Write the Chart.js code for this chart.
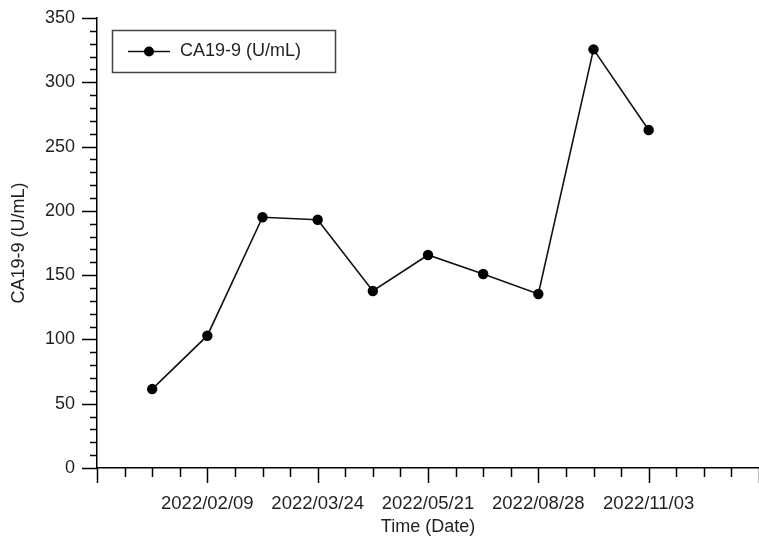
<!DOCTYPE html>
<html>
<head>
<meta charset="utf-8">
<script src="https://cdn.jsdelivr.net/npm/chart.js@4/dist/chart.umd.min.js"></script>
<style>
html,body{margin:0;padding:0;background:#fff;}
#wrap{width:759px;height:539px;position:relative;}
</style>
</head>
<body>
<div id="wrap"><canvas id="c" width="759" height="539"></canvas></div>
<script>
// ---- data ----
const seriesLabel = 'CA19-9 (U/mL)';
const pointPositions = [1, 2, 3, 4, 5, 6, 7, 8, 9, 10];
const ca199Values = [61.4, 102.9, 195.0, 193.1, 137.7, 165.7, 150.9, 135.3, 325.6, 262.9];
const xTickPositions = [2, 4, 6, 8, 10];
const xTickLabels = ['2022/02/09', '2022/03/24', '2022/05/21', '2022/08/28', '2022/11/03'];
const yAxisTitle = 'CA19-9 (U/mL)';
const xAxisTitle = 'Time (Date)';

const FONT = 'Liberation Sans';
const INK = '#231f20';

const tickMarks = {
  id: 'tickMarks',
  afterDraw(chart) {
    const ctx = chart.ctx;
    const xs = chart.scales.x, ys = chart.scales.y;
    const area = chart.chartArea;
    ctx.save();
    ctx.strokeStyle = '#000';
    ctx.lineWidth = 1.5;
    for (let v = 0; v <= 12.0001; v += 0.5) {
      const px = Math.round(xs.getPixelForValue(v)) + 0.5;
      const major = Math.abs(v % 2) < 1e-6;
      ctx.beginPath();
      ctx.moveTo(px, area.bottom);
      ctx.lineTo(px, area.bottom + (major ? 15 : 9));
      ctx.stroke();
    }
    for (let v = 0; v <= 350; v += 10) {
      const py = Math.round(ys.getPixelForValue(v)) + 0.5;
      const major = v % 50 === 0;
      ctx.beginPath();
      ctx.moveTo(area.left, py);
      ctx.lineTo(area.left - (major ? 15 : 7), py);
      ctx.stroke();
    }
    const ds = chart.data.datasets[0];
    ctx.strokeStyle = '#444';
    ctx.lineWidth = 1.5;
    ctx.strokeRect(112.5, 30.5, 223, 42);
    ctx.strokeStyle = ds.borderColor;
    ctx.lineWidth = 1.5;
    ctx.beginPath();
    ctx.moveTo(128, 51.5);
    ctx.lineTo(170, 51.5);
    ctx.stroke();
    ctx.fillStyle = ds.pointBackgroundColor;
    ctx.beginPath();
    ctx.arc(149, 51.5, 5, 0, Math.PI * 2);
    ctx.fill();
    ctx.fillStyle = INK;
    ctx.font = '18px "' + FONT + '"';
    ctx.textBaseline = 'middle';
    ctx.textAlign = 'left';
    ctx.fillText(ds.label, 180, 51.5);
    ctx.restore();
  }
};

new Chart(document.getElementById('c'), {
  type: 'line',
  data: {
    datasets: [{
      label: seriesLabel,
      data: pointPositions.map((x, i) => ({ x: x, y: ca199Values[i] })),
      borderColor: '#111',
      borderWidth: 1.6,
      pointBackgroundColor: '#000',
      pointBorderColor: '#000',
      pointRadius: 5.2,
      pointBorderWidth: 0,
      tension: 0,
      fill: false,
      clip: false
    }]
  },
  options: {
    responsive: false,
    animation: false,
    devicePixelRatio: 1,
    layout: { autoPadding: false, padding: { top: 18, right: 0, left: 0, bottom: 0 } },
    plugins: {
      legend: { display: false },
      tooltip: { enabled: false }
    },
    scales: {
      x: {
        type: 'linear',
        min: 0, max: 12,
        afterFit(s) { s.height = 71; s.paddingLeft = 0; s.paddingRight = 0; },
        grid: { display: false, drawTicks: false },
        border: { display: true, color: '#000', width: 1.5 },
        ticks: {
          stepSize: 2,
          autoSkip: false,
          maxRotation: 0,
          padding: 25,
          color: INK,
          font: { family: FONT, size: 18.5 },
          callback(v) {
            const k = xTickPositions.indexOf(v);
            return k >= 0 ? xTickLabels[k] : '';
          }
        },
        title: {
          display: true,
          text: xAxisTitle,
          color: INK,
          font: { family: FONT, size: 18 },
          padding: { top: 0, bottom: 1 }
        }
      },
      y: {
        min: 0, max: 350,
        afterFit(s) { s.width = 97; s.paddingTop = 0; s.paddingBottom = 0; },
        grid: { display: false, drawTicks: false },
        border: { display: true, color: '#000', width: 1.5 },
        ticks: {
          stepSize: 50,
          padding: 22,
          color: INK,
          font: { family: FONT, size: 18 },
          callback(v) { return String(v); }
        },
        title: {
          display: true,
          text: yAxisTitle,
          color: INK,
          font: { family: FONT, size: 18 },
          padding: { top: 8, bottom: 0 }
        }
      }
    }
  },
  plugins: [tickMarks]
});
</script>
</body>
</html>
